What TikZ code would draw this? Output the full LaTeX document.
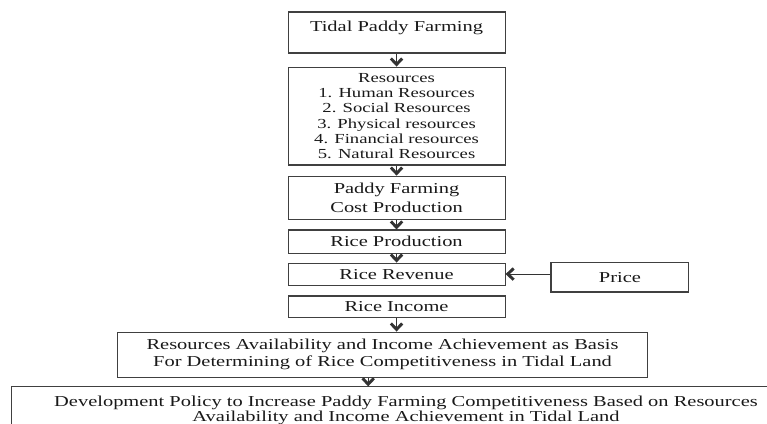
\documentclass[tikz,border=0pt]{standalone}
\usepackage{fontspec}
\setmainfont{Liberation Serif}[FakeStretch=1.35]
\usetikzlibrary{arrows.meta,calc}

\begin{document}
\begin{tikzpicture}[>={Straight Barb[length=4.5pt,width=8.5pt,line width=2.2pt]},
  box/.style={draw=black!75, line width=0.8pt, align=center, inner sep=0pt,
              minimum width=5.74cm, text=black!90,
              font=\fontsize{11.4}{14.3}\selectfont},
  link/.style={->, draw=black!80, line width=0.6pt}]
  \useasboundingbox (0,0) rectangle (20.29,-11.19);
  \clip (0,0) rectangle (20.29,-11.19);
  \node[box, text height=0.516cm, text depth=0.569cm] (farm) at (10.49,-0.86)
    {Tidal Paddy Farming};
  \node[box, minimum height=2.59cm, font=\fontsize{10.4}{11.5}\selectfont]
    (res) at (10.49,-3.07) {Resources\\1. Human Resources\\2. Social Resources\\
    3. Physical resources\\4. Financial resources\\5. Natural Resources};
  \node[box, minimum height=1.14cm] (cost) at (10.49,-5.23)
    {Paddy Farming\\Cost Production};
  \node[box, minimum height=0.61cm] (prod) at (10.49,-6.39) {Rice Production};
  \node[box, minimum height=0.58cm] (rev) at (10.49,-7.25) {Rice Revenue};
  \node[box, minimum height=0.56cm] (inc) at (10.49,-8.11) {Rice Income};
  \node[box, minimum width=3.65cm, minimum height=0.77cm] (price) at (16.40,-7.34)
    {Price};
  \node[box, minimum width=14.0cm, minimum height=1.19cm,
    font=\fontsize{11.4}{12.75}\selectfont] (basis) at (10.12,-9.38)
    {Resources Availability and Income Achievement as Basis\\
     For Determining of Rice Competitiveness in Tidal Land};
  \node[box, minimum width=20.85cm, minimum height=1.27cm,
    font=\fontsize{11.4}{11.25}\selectfont] (policy) at (10.74,-10.87)
    {\raisebox{2pt}{Development Policy to Increase Paddy Farming Competitiveness Based on Resources}\\
     \raisebox{3pt}{Availability and Income Achievement in Tidal Land}};
  \draw[link] (farm) -- (res);
  \draw[link] (res) -- (cost);
  \draw[link] (cost) -- (prod);
  \draw[link] (prod) -- (rev);
  \draw[link] (price.west |- rev.east) -- (rev.east);
  \draw[link] (inc) -- (inc |- basis.north);
  \draw[link] ([xshift=-0.38cm]basis.south) -- ([xshift=-0.38cm]basis.south |- policy.north);
\end{tikzpicture}
\end{document}
